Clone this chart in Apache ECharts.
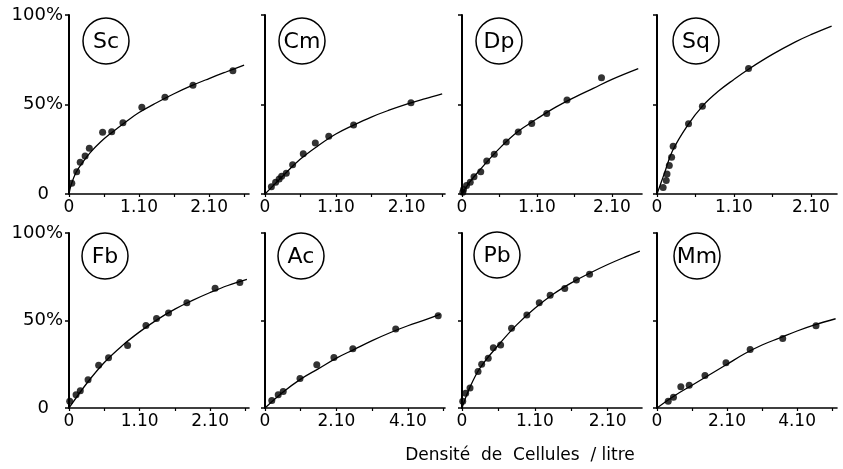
<!DOCTYPE html>
<html>
<head>
<meta charset="utf-8">
<script src="https://cdn.jsdelivr.net/npm/echarts@6/dist/echarts.min.js"></script>
<style>
html,body{margin:0;padding:0;background:#fff;}
#chart{width:843px;height:469px;}
</style>
</head>
<body>
<div id="chart"></div>
<script>
// ---- Data ----
const panelNames = ['Sc', 'Cm', 'Dp', 'Sq', 'Fb', 'Ac', 'Pb', 'Mm'];

const xTickValuesSmall = [0, 1, 2];
const xTickLabelsSmall = ['0', '1.10', '2.10'];
const xTickValuesLarge = [0, 2, 4];
const xTickLabelsLarge = ['0', '2.10', '4.10'];
const yTickValues = [0, 50, 100];
const yTickLabels = ['0', '50%', '100%'];
const xTitle = 'Densité  de  Cellules  / litre';

const scPoints = [[0.04,6.0],[0.11,12.5],[0.16,17.7],[0.23,21.2],[0.29,25.5],[0.48,34.5],[0.61,34.8],[0.77,39.8],[1.04,48.4],[1.37,54.0],[1.77,60.7],[2.34,68.9]];
const scCurve = [[0,0],[0.03,5],[0.1,12],[0.2,18],[0.3,23],[0.45,29],[0.6,34],[0.8,40],[1.0,45.5],[1.25,51],[1.5,56],[1.75,60.5],[2.0,64.5],[2.25,68.3],[2.5,72]];

const cmPoints = [[0.09,4.1],[0.15,6.5],[0.2,8.4],[0.235,9.9],[0.3,11.6],[0.39,16.3],[0.54,22.5],[0.71,28.5],[0.9,32.3],[1.25,38.5],[2.06,51.0]];
const cmCurve = [[0,0],[0.25,10],[0.5,19.5],[0.75,27],[1.0,33.5],[1.25,38.5],[1.5,43],[1.75,46.8],[2.0,50.2],[2.25,53.2],[2.5,56]];

const dpPoints = [[0.01,1.0],[0.02,2.5],[0.06,4.7],[0.11,6.6],[0.16,9.6],[0.25,12.4],[0.33,18.4],[0.43,22.2],[0.59,29.1],[0.75,34.7],[0.93,39.4],[1.13,45.0],[1.4,52.5],[1.86,65.0]];
const dpCurve = [[0,0],[0.1,6.5],[0.25,14],[0.5,25.5],[0.75,35],[1.0,42],[1.25,48.5],[1.5,54],[1.75,59],[2.0,64],[2.35,70]];

const sqPoints = [[0.08,3.7],[0.12,7.5],[0.13,11.2],[0.16,15.9],[0.19,20.5],[0.21,26.7],[0.41,39.3],[0.59,49.0],[1.19,70.1]];
const sqCurve = [[0,0],[0.05,6],[0.1,12],[0.2,24],[0.4,38.5],[0.6,49.5],[0.8,57.5],[1.0,64],[1.2,70],[1.5,78],[1.8,85],[2.0,89],[2.27,93.8]];

const fbPoints = [[0.01,3.8],[0.1,7.6],[0.16,9.9],[0.27,16.2],[0.42,24.4],[0.56,28.7],[0.83,35.7],[1.09,47.2],[1.24,51.2],[1.41,54.3],[1.67,60.2],[2.07,68.4],[2.42,71.7]];
const fbCurve = [[0,0],[0.25,14],[0.5,26],[0.75,35.5],[1.0,43.5],[1.25,50.5],[1.5,56.5],[1.75,61.5],[2.0,66],[2.25,70],[2.52,73.5]];

const acPoints = [[0.19,4.3],[0.37,7.6],[0.51,9.5],[0.98,16.9],[1.45,24.7],[1.93,28.8],[2.46,33.8],[3.66,45.2],[4.85,52.7]];
const acCurve = [[0,0],[0.5,9],[1.0,16.5],[1.5,22.5],[2.0,28.5],[2.5,33.5],[3.0,38.5],[3.5,43],[4.0,47],[4.5,50.5],[4.9,53.5]];

const pbPoints = [[0.01,3.8],[0.05,8.5],[0.11,11.4],[0.22,20.8],[0.27,25.0],[0.36,28.5],[0.43,34.5],[0.53,36.0],[0.68,45.6],[0.89,53.1],[1.06,60.1],[1.21,64.5],[1.41,68.3],[1.57,73.1],[1.75,76.5]];
const pbCurve = [[0,0],[0.1,11],[0.25,23],[0.5,36],[0.75,47.5],[1.0,57],[1.25,65],[1.5,71.5],[1.75,77],[2.0,82],[2.25,86.5],[2.44,89.7]];

const mmPoints = [[0.32,3.9],[0.47,6.1],[0.68,12.1],[0.92,13.0],[1.37,18.6],[1.97,25.9],[2.66,33.5],[3.59,39.7],[4.54,47.0]];
const mmCurve = [[0,0],[0.5,7],[1.0,13],[1.5,19],[2.0,25],[2.5,31],[3.0,36],[3.5,40],[4.0,44],[4.5,47.5],[5.1,51]];

// ---- Layout ----
const allPoints = [scPoints, cmPoints, dpPoints, sqPoints, fbPoints, acPoints, pbPoints, mmPoints];
const allCurves = [scCurve, cmCurve, dpCurve, sqCurve, fbCurve, acCurve, pbCurve, mmCurve];
const lefts = [69, 265, 462, 657];
const gridW = 180;
const xMax = [2.57, 2.54, 2.4, 2.34, 2.55, 5.04, 2.47, 5.14];
const largeScale = [false, false, false, false, false, true, false, true];
const circleCenters = [[106,41],[302,41],[499,41],[696,41],[105,256],[301,256],[497,255],[697,256]];

const FONT = 'DejaVu Sans';
const grids = [], xAxes = [], yAxes = [], series = [], graphics = [];

for (let i = 0; i < 8; i++) {
  const row = i < 4 ? 0 : 1;
  const col = i % 4;
  grids.push({
    left: lefts[col], width: gridW,
    top: row === 0 ? 15 : 233,
    height: row === 0 ? 179 : 175
  });
  const tv = largeScale[i] ? xTickValuesLarge : xTickValuesSmall;
  const tl = largeScale[i] ? xTickLabelsLarge : xTickLabelsSmall;
  xAxes.push({
    type: 'value', gridIndex: i, min: 0, max: xMax[i],
    interval: largeScale[i] ? 1 : 0.5,
    splitLine: { show: false },
    axisLine: { lineStyle: { color: '#000', width: 1.6 } },
    axisTick: { show: true, length: 3, inside: false, lineStyle: { color: '#000', width: 1.2 } },
    axisLabel: {
      color: '#000', fontFamily: FONT, fontSize: 17, margin: 5,
      showMaxLabel: false,
      formatter: function (v) {
        const k = tv.findIndex(t => Math.abs(t - v) < 1e-6);
        return k >= 0 ? tl[k] : '';
      }
    }
  });
  const showY = (col === 0);
  yAxes.push({
    type: 'value', gridIndex: i, min: 0, max: 100, interval: 50,
    splitLine: { show: false },
    axisLine: { show: true, lineStyle: { color: '#000', width: 2 } },
    axisTick: { show: true, length: 4, lineStyle: { color: '#000', width: 1.5 } },
    axisLabel: {
      show: showY, color: '#000', fontFamily: FONT, fontSize: 18, margin: 6,
      formatter: function (v) {
        const k = yTickValues.indexOf(v);
        if (k < 0) return '';
        return v === 0 ? '{z|' + yTickLabels[k] + '}' : yTickLabels[k];
      },
      rich: { z: { fontFamily: FONT, fontSize: 18, color: '#000', padding: [0, 14, 0, 0] } }
    }
  });
  series.push({
    type: 'line', xAxisIndex: i, yAxisIndex: i, data: allCurves[i],
    smooth: 0.4, showSymbol: false, symbol: 'none',
    lineStyle: { color: '#000', width: 1.3 }, silent: true, z: 2
  });
  series.push({
    type: 'scatter', xAxisIndex: i, yAxisIndex: i, data: allPoints[i],
    symbol: 'circle', symbolSize: 7, itemStyle: { color: '#000' }, silent: true, z: 3
  });
  const c = circleCenters[i];
  graphics.push({
    type: 'circle', shape: { cx: c[0], cy: c[1], r: 23 },
    style: { fill: '#fff', stroke: '#000', lineWidth: 1.5 }, z: 10
  });
  graphics.push({
    type: 'text', x: c[0], y: c[1] + 1, z: 11,
    style: { text: panelNames[i], align: 'center', verticalAlign: 'middle',
             font: '22px "DejaVu Sans"', fill: '#000' }
  });
}

graphics.push({
  type: 'text', x: 520, y: 456, z: 11,
  style: { text: xTitle, align: 'center', verticalAlign: 'middle',
           font: '17px "DejaVu Sans"', fill: '#000' }
});

const chart = echarts.init(document.getElementById('chart'), null, { renderer: 'canvas' });
chart.setOption({
  animation: false,
  backgroundColor: '#fff',
  grid: grids,
  xAxis: xAxes,
  yAxis: yAxes,
  series: series,
  graphic: graphics
});
</script>
</body>
</html>
